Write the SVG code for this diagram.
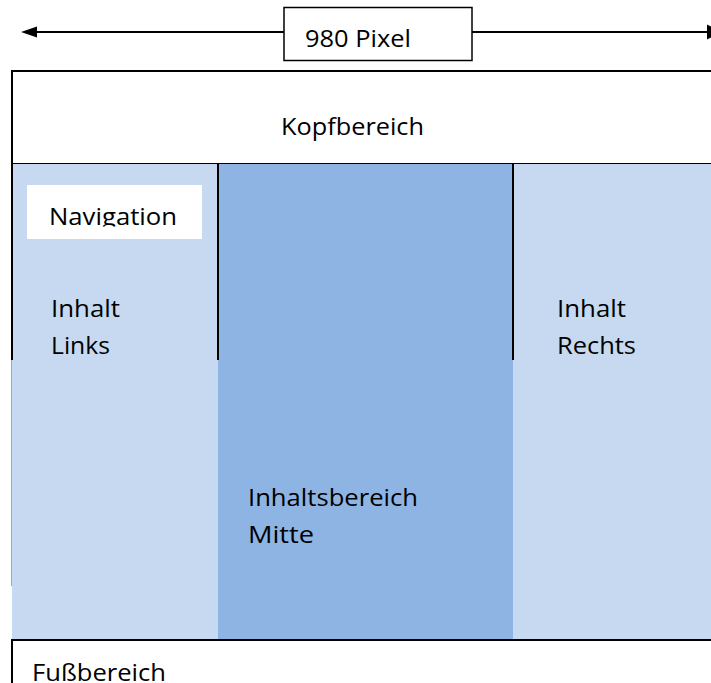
<svg xmlns="http://www.w3.org/2000/svg" width="711" height="683" viewBox="0 0 711 683">
  <defs>
    <style>
      .lbl { font-family: "Open Sans", "Liberation Sans", sans-serif; font-size: 24px; fill: #000; }
      .edge { stroke: #000; stroke-width: 2; fill: none; }
      .side { fill: #C6D9F1; }
      .main { fill: #8EB4E3; }
    </style>
    <clipPath id="navClip">
      <rect x="27" y="185" width="175" height="41.5"/>
    </clipPath>
  </defs>

  <rect x="0" y="0" width="711" height="683" fill="#fff"/>

  <!-- width dimension arrow -->
  <g id="connectors">
    <line class="edge" x1="36" y1="32" x2="284" y2="32"/>
    <line class="edge" x1="472" y1="32" x2="707" y2="32"/>
    <polygon points="21,32 37,26.5 37,37.5" fill="#000"/>
    <polygon points="707,24.5 722,32 707,39.5" fill="#000"/>
  </g>

  <g id="width-label">
    <rect x="284" y="7.5" width="188" height="53" fill="#fff" stroke="#000" stroke-width="1.5"/>
    <text class="lbl" x="305" y="47" textLength="106" lengthAdjust="spacingAndGlyphs">980 Pixel</text>
  </g>

  <!-- header -->
  <g id="header">
    <rect x="12" y="71" width="710" height="93" fill="#fff" stroke="#000" stroke-width="2"/>
    <text class="lbl" x="281" y="135" textLength="143" lengthAdjust="spacingAndGlyphs">Kopfbereich</text>
  </g>

  <!-- left column -->
  <g id="left-column">
    <rect class="side" x="12" y="164" width="207" height="476"/>
    <line x1="11.5" y1="360" x2="11.5" y2="586" stroke="#a6a6a6" stroke-width="1"/>
    <line class="edge" x1="12" y1="163" x2="12" y2="360"/>
    <text class="lbl" x="51" y="317" textLength="69" lengthAdjust="spacingAndGlyphs">Inhalt</text>
    <text class="lbl" x="51" y="354" textLength="59" lengthAdjust="spacingAndGlyphs">Links</text>
  </g>

  <g id="navigation">
    <rect x="27" y="185" width="175" height="54" fill="#fff"/>
    <text class="lbl" x="49" y="225" textLength="128" lengthAdjust="spacingAndGlyphs" clip-path="url(#navClip)">Navigation</text>
  </g>

  <!-- right column -->
  <g id="right-column">
    <rect class="side" x="512" y="164" width="199" height="476"/>
    <text class="lbl" x="557" y="317" textLength="69" lengthAdjust="spacingAndGlyphs">Inhalt</text>
    <text class="lbl" x="557" y="354" textLength="79" lengthAdjust="spacingAndGlyphs">Rechts</text>
  </g>

  <!-- centre column -->
  <g id="centre-column">
    <rect class="main" x="218" y="164" width="295" height="476"/>
    <line class="edge" x1="218" y1="163" x2="218" y2="360"/>
    <line class="edge" x1="513" y1="163" x2="513" y2="360"/>
    <text class="lbl" x="248" y="506" textLength="170" lengthAdjust="spacingAndGlyphs">Inhaltsbereich</text>
    <text class="lbl" x="248" y="543" textLength="66" lengthAdjust="spacingAndGlyphs">Mitte</text>
  </g>

  <!-- footer -->
  <g id="footer">
    <rect x="12" y="640" width="710" height="60" fill="#fff" stroke="#000" stroke-width="2"/>
    <text class="lbl" x="32" y="681" textLength="134" lengthAdjust="spacingAndGlyphs">Fußbereich</text>
  </g>
</svg>
